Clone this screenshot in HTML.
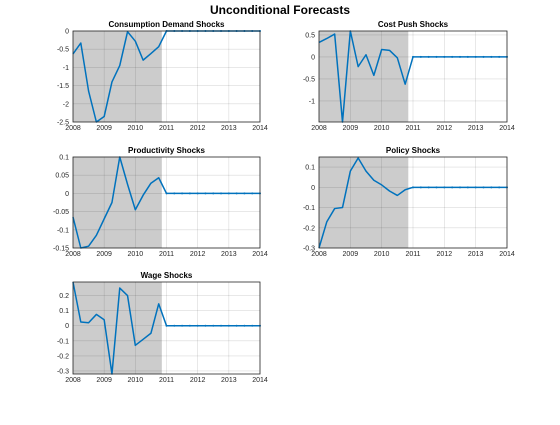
<!DOCTYPE html>
<html><head><meta charset="utf-8"><style>
body{margin:0;background:#fff;}
svg{font-family:"Liberation Sans",sans-serif;}
</style></head><body>
<svg id="fig" width="560" height="420" viewBox="0 0 560 420">
<rect width="560" height="420" fill="#fff"/>
<text x="280" y="14" text-anchor="middle" font-size="12" font-weight="bold">Unconditional Forecasts</text>
</svg>
<script>
const years=[2008,2009,2010,2011,2012,2013,2014];
const consumption=[-0.63,-0.33,-1.65,-2.5,-2.35,-1.4,-0.95,-0.02,-0.28,-0.8,-0.62,-0.43,0,0,0,0,0,0,0,0,0,0,0,0,0];
const costPush=[0.33,0.42,0.52,-1.48,0.59,-0.22,0.05,-0.42,0.17,0.15,-0.02,-0.62,0,0,0,0,0,0,0,0,0,0,0,0,0];
const productivity=[-0.065,-0.15,-0.145,-0.115,-0.07,-0.025,0.1,0.025,-0.045,-0.005,0.028,0.043,0,0,0,0,0,0,0,0,0,0,0,0,0];
const policy=[-0.3,-0.17,-0.105,-0.1,0.08,0.145,0.08,0.035,0.012,-0.018,-0.04,-0.012,0,0,0,0,0,0,0,0,0,0,0,0,0];
const wage=[0.29,0.025,0.02,0.075,0.04,-0.32,0.25,0.2,-0.13,-0.09,-0.05,0.145,0,0,0,0,0,0,0,0,0,0,0,0,0];
const shadeEnd=2010.85;
const panels=[
 {title:"Consumption Demand Shocks",name:"consumption",data:consumption,x0:73,x1:260,y0:31,y1:122,ymin:-2.5,ymax:0,ticks:[0,-0.5,-1,-1.5,-2,-2.5]},
 {title:"Cost Push Shocks",name:"cost-push",data:costPush,x0:319,x1:507,y0:31,y1:122,ymin:-1.48,ymax:0.59,ticks:[0.5,0,-0.5,-1]},
 {title:"Productivity Shocks",name:"productivity",data:productivity,x0:73,x1:260,y0:157,y1:248,ymin:-0.15,ymax:0.1,ticks:[0.1,0.05,0,-0.05,-0.1,-0.15]},
 {title:"Policy Shocks",name:"policy",data:policy,x0:319,x1:507,y0:157,y1:248,ymin:-0.3,ymax:0.15,ticks:[0.1,0,-0.1,-0.2,-0.3]},
 {title:"Wage Shocks",name:"wage",data:wage,x0:73,x1:260,y0:282,y1:374,ymin:-0.32,ymax:0.29,ticks:[0.2,0.1,0,-0.1,-0.2,-0.3]}
];
const NS="http://www.w3.org/2000/svg";
const fig=document.getElementById('fig');
function mk(tag,attrs,parent){const e=document.createElementNS(NS,tag);for(const k in attrs)e.setAttribute(k,attrs[k]);(parent||fig).appendChild(e);return e;}
panels.forEach(p=>{
 const g=mk('g',{});
 
 
 const xs=v=>p.x0+(v-2008)/6*(p.x1-p.x0);
 const ys=v=>p.y1-(v-p.ymin)/(p.ymax-p.ymin)*(p.y1-p.y0);
 const sh=mk('rect',{x:p.x0,y:p.y0,width:xs(shadeEnd)-p.x0,height:p.y1-p.y0,fill:'#cccccc'},g);
 
 
 years.forEach(yr=>{
  const l=mk('line',{x1:xs(yr),x2:xs(yr),y1:p.y0,y2:p.y1,stroke:'#000','stroke-opacity':0.15,'stroke-width':0.6},g);
  
  
  const t=mk('text',{x:xs(yr),y:p.y1+8,'text-anchor':'middle','font-size':7,fill:'#262626'},g);
  t.textContent=yr;
  
  
 });
 p.ticks.forEach(v=>{
  const l=mk('line',{x1:p.x0,x2:p.x1,y1:ys(v),y2:ys(v),stroke:'#000','stroke-opacity':0.15,'stroke-width':0.6},g);
  
  
  const t=mk('text',{x:p.x0-4,y:ys(v)+2.5,'text-anchor':'end','font-size':7,fill:'#262626'},g);
  t.textContent=String(v);
  
  
 });
 const pts=p.data.map((v,i)=>xs(2008+i*0.25)+','+ys(v)).join(' ');
 const pl=mk('polyline',{points:pts,fill:'none',stroke:'#0072bd','stroke-width':1.5,'stroke-linejoin':'round'},g);
 
 
 p.data.forEach((v,i)=>{if(i>=12){
  const c=mk('circle',{cx:xs(2008+i*0.25),cy:ys(v),r:1,fill:'#0072bd'},g);
  
  
 }});
 const b=mk('rect',{x:p.x0,y:p.y0,width:p.x1-p.x0,height:p.y1-p.y0,fill:'none',stroke:'#262626','stroke-width':0.8},g);
 
 
 const tt=mk('text',{x:(p.x0+p.x1)/2,y:p.y0-4,'text-anchor':'middle','font-size':8,'font-weight':'bold'},g);
 tt.textContent=p.title;
 
 
});
</script>
</body></html>
